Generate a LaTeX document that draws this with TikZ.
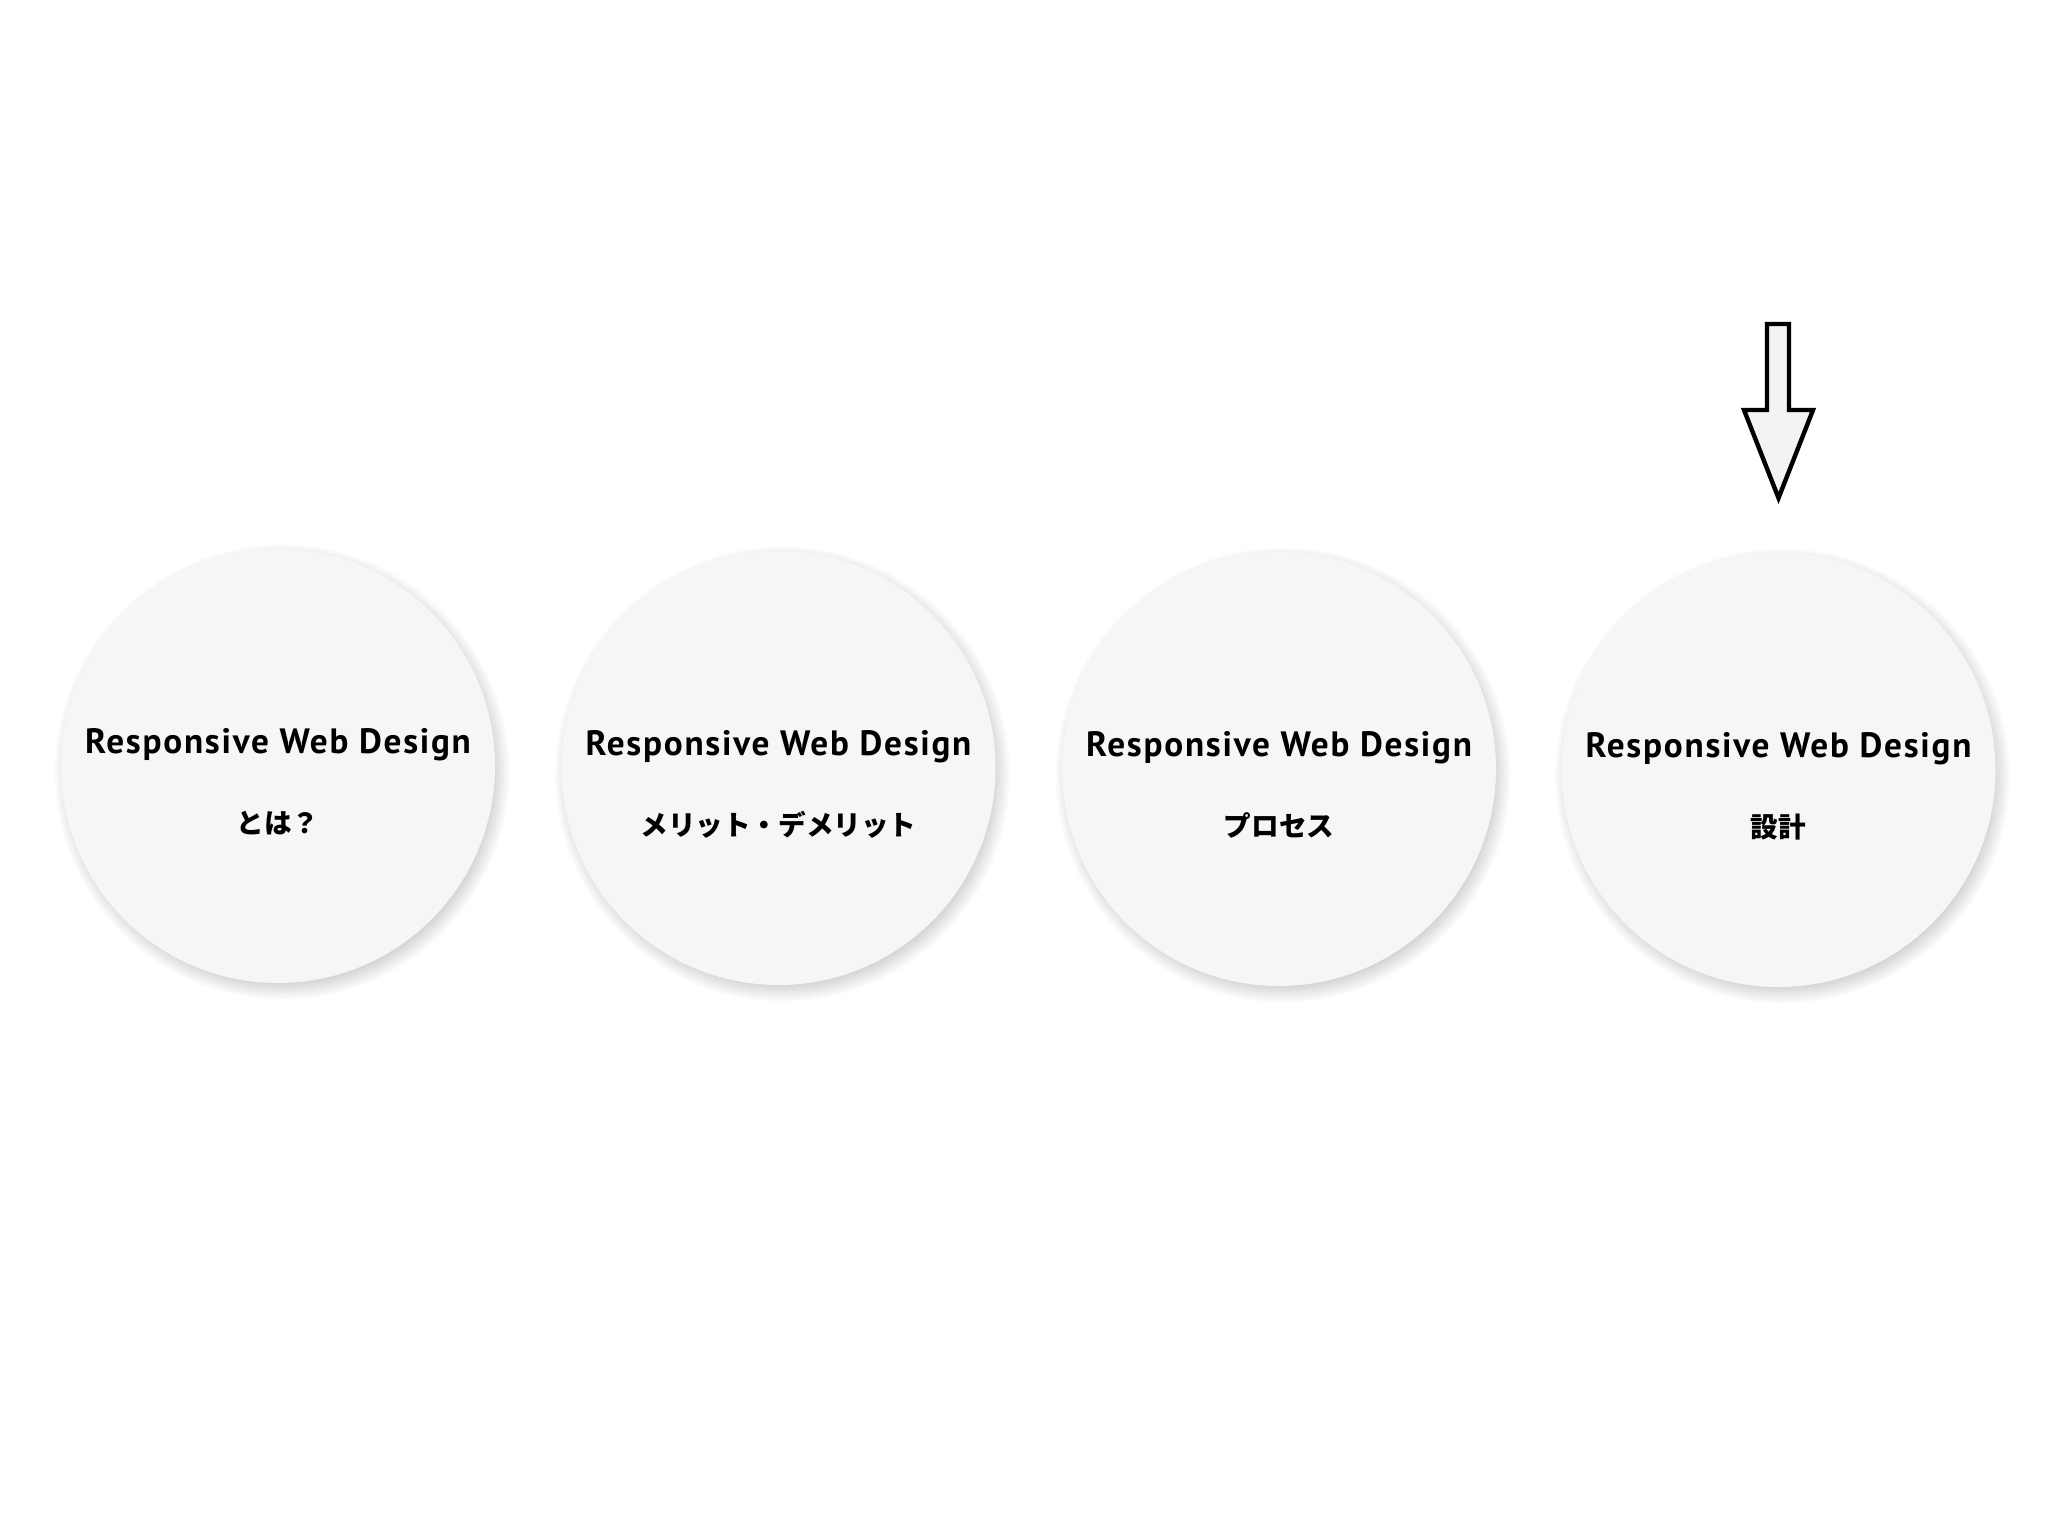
\documentclass[tikz,border=0pt]{standalone}
\usepackage{fontspec}
\setmainfont{PT Sans}
\newfontfamily\jpfont{Noto Sans CJK JP}
\newfontfamily\enfont[LetterSpace=5]{PT Sans}
\usetikzlibrary{backgrounds,calc}
\definecolor{circfill}{HTML}{F6F6F6}
\definecolor{arrowfill}{HTML}{F3F3F3}
\tikzset{
  bubble/.style={circle, fill=circfill, draw=none, minimum size=217pt, inner sep=0pt},
  entitle/.style={anchor=base, inner sep=0pt, font=\fontsize{17.6}{20}\selectfont\enfont\bfseries},
  jptitle/.style={anchor=base, inner sep=0pt, font=\fontsize{13.8}{16}\selectfont\jpfont\bfseries},
  bigarrow/.style={draw=black, line width=2.2pt, fill=arrowfill, line join=miter}
}
\begin{document}
\begin{tikzpicture}[x=0.5pt,y=-0.5pt]
\useasboundingbox (0,0) rectangle (2048,1536);
\node[bubble] (c1) at (278,766) {};
\node[bubble] (c2) at (778.5,768) {};
\node[bubble] (c3) at (1279,769) {};
\node[bubble] (c4) at (1778.5,770) {};
\begin{scope}[on background layer]
\fill[white] (0,0) rectangle (2048,1536);
\foreach \n in {c1,c2,c3,c4}{
  \foreach \k in {0,...,15}{
    \fill[black,opacity=0.016] ([shift={(2pt,-3pt)}]\n.center) circle[radius={101pt+\k*0.85pt}];
  }
}
\end{scope}
\foreach \n/\jp in {c1/とは？,c2/メリット・デメリット,c3/プロセス,c4/設計}{
  \node[entitle] (\n-en) at ([yshift=6.5pt]\n.center) {Responsive Web Design};
  \node[jptitle] (\n-jp) at ([yshift=-33.5pt]\n.center) {\jp};
}
\draw[bigarrow] (1767,324) -- (1789,324) -- (1789,410) -- (1813,410) -- (1778.5,498) -- (1744,410) -- (1767,410) -- cycle;
\end{tikzpicture}
\end{document}
